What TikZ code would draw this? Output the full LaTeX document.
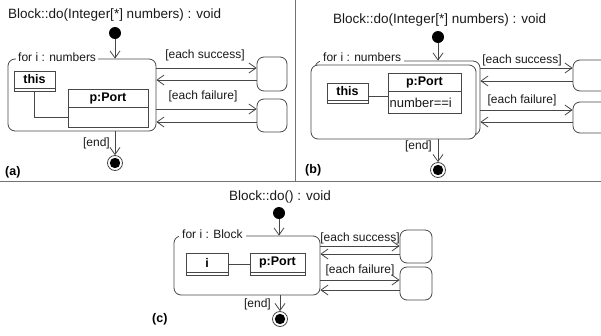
\documentclass[tikz,border=0pt]{standalone}
\usepackage{fontspec}
\setmainfont{Liberation Sans}
\usetikzlibrary{arrows.meta,calc}
\begin{document}
\begin{tikzpicture}[x=1pt,y=-1pt,
  ln/.style={draw=black!72, line width=0.8pt},
  box/.style={ln, rectangle, inner sep=0pt, fill=white},
  region/.style={ln, rectangle, rounded corners=7pt, inner sep=0pt, fill=white},
  statebox/.style={ln, rectangle, rounded corners=7pt, inner sep=0pt, fill=white},
  arr/.style={ln, -{Straight Barb[length=7pt,width=10pt]}},
  lbl/.style={font=\fontsize{12}{14}\selectfont, inner sep=1pt, text=black!90},
  ttl/.style={font=\fontsize{13.5}{16}\selectfont, inner sep=0pt, anchor=west, text=black!90},
  bld/.style={font=\fontsize{12.5}{15}\selectfont\bfseries, inner sep=0pt},
  ini/.style={circle, fill=black, minimum size=12pt, inner sep=0pt},
  fin/.style={circle, draw=black!72, fill=white, line width=0.8pt, minimum size=15pt, inner sep=0pt,
    path picture={\fill[black] (path picture bounding box.center) circle (5.2pt);}},
  sep/.style={draw=black!55, line width=1pt},
  panel/.style={font=\fontsize{12.5}{15}\selectfont\bfseries, inner sep=0pt, anchor=west}
]
\useasboundingbox (0,0) rectangle (601,335);
\clip (0,0) rectangle (601,335);

% separators
\coordinate (sepL) at (0,181);
\coordinate (sepR) at (601,181);
\coordinate (sepT) at (295,0);
\coordinate (sepM) at (295,181);
\draw[sep] (sepL) -- (sepR);
\draw[sep] (sepT) -- (sepM);

%%%%%%%%%%%%%%%% Panel (a)
\node[ttl] (tA) at (8,15) {Block::do(Integer[*] numbers) : void};
\node[ini] (iniA) at (115,33) {};
\node[region, minimum width=148pt, minimum height=72pt] (regA) at (82,95) {};
\node[lbl, fill=white, anchor=west, inner xsep=2pt] (frA) at (16,57) {for i : numbers};
\draw[arr] (iniA) -- (iniA |- regA.north);
% this box
\node[box, minimum width=41pt, minimum height=20pt] (thisA) at (34.5,81) {};
\draw[ln] ($(thisA.south west)+(0,-3)$) -- ($(thisA.south east)+(0,-3)$);
\node[bld] (thisAt) at (34.5,79.5) {this};
% port box
\node[box, minimum width=80pt, minimum height=38pt] (portA) at (108,108) {};
\draw[ln] (portA.west |- 0,107) -- (portA.east |- 0,107);
\node[bld] (portAt) at (108,98) {p:Port};
\draw[ln] (thisA.south) |- (portA.west |- 0,117);
% states
\node[statebox, minimum width=30pt, minimum height=34pt] (sA1) at (272,74) {};
\node[statebox, minimum width=30pt, minimum height=33pt] (sA2) at (272,115.5) {};
\draw[arr] (regA.east |- 0,68) -- (sA1.west |- 0,68);
\draw[arr] (sA1.west |- 0,80) -- (regA.east |- 0,80);
\draw[arr] (regA.east |- 0,109) -- (sA2.west |- 0,109);
\draw[arr] (sA2.west |- 0,122) -- (regA.east |- 0,122);
\node[lbl] (lsA) at (205,55) {[each success]};
\node[lbl] (lfA) at (203,96) {[each failure]};
% end
\node[fin] (finA) at (115,163) {};
\draw[arr] (finA |- regA.south) -- (finA.north);
\node[lbl, anchor=east] (eA) at (111,143) {[end]};
\node[panel] (pA) at (5,172) {(a)};

%%%%%%%%%%%%%%%% Panel (b)
\node[ttl] (tB) at (333,20) {Block::do(Integer[*] numbers) : void};
\node[ini] (iniB) at (438,37) {};
\node[region, minimum width=165pt, minimum height=74pt] (regBb) at (397.5,98) {};
\node[lbl, fill=white, anchor=west, inner xsep=3pt] (frB) at (320,57) {for i : numbers};
\node[region, minimum width=165pt, minimum height=74pt] (regBf) at (393.5,102) {};
\draw[arr] (iniB) -- (iniB |- regBb.north);
% this box
\node[box, minimum width=41pt, minimum height=20pt] (thisB) at (347.5,93) {};
\draw[ln] ($(thisB.south west)+(0,-3)$) -- ($(thisB.south east)+(0,-3)$);
\node[bld] (thisBt) at (347.5,91.5) {this};
% port box
\node[box, minimum width=73pt, minimum height=40pt] (portB) at (424.5,93) {};
\draw[ln] (portB.west |- 0,91) -- (portB.east |- 0,91);
\node[bld] (portBt) at (424.5,82) {p:Port};
\node[lbl, anchor=west, font=\fontsize{13}{15}\selectfont] (numB) at (388.5,102.5) {number==i};
\draw[ln] (thisB.east |- 0,96) -- (portB.west |- 0,96);
% states
\node[statebox, minimum width=42pt, minimum height=31pt] (sB1) at (594,75.5) {};
\node[statebox, minimum width=42pt, minimum height=31pt] (sB2) at (594,117.5) {};
\draw[arr] (regBb.east |- 0,68) -- (sB1.west |- 0,68);
\draw[arr] (sB1.west |- 0,81) -- (regBb.east |- 0,81);
\draw[arr] (regBb.east |- 0,110) -- (sB2.west |- 0,110);
\draw[arr] (sB2.west |- 0,122) -- (regBb.east |- 0,122);
\node[lbl] (lsB) at (522,60) {[each success]};
\node[lbl] (lfB) at (522,100) {[each failure]};
% end
\node[fin] (finB) at (438,170) {};
\draw[arr] (finB |- regBf.south) -- (finB.north);
\node[lbl, anchor=east] (eB) at (433,146) {[end]};
\node[panel] (pB) at (305,170) {(b)};

%%%%%%%%%%%%%%%% Panel (c)
\node[ttl] (tC) at (229,197) {Block::do() : void};
\node[ini] (iniC) at (279,213) {};
\node[region, minimum width=146pt, minimum height=59pt] (regC) at (247,265.5) {};
\node[lbl, fill=white, anchor=west, inner xsep=3pt] (frC) at (179,234) {for i : Block};
\draw[arr] (iniC) -- (iniC |- regC.north);
% i box
\node[box, minimum width=42pt, minimum height=22pt] (iC) at (207,264) {};
\draw[ln] ($(iC.south west)+(0,-3)$) -- ($(iC.south east)+(0,-3)$);
\node[bld] (iCt) at (207,262.5) {i};
% port box
\node[box, minimum width=55pt, minimum height=22pt] (portC) at (277.5,264) {};
\draw[ln] ($(portC.south west)+(0,-3)$) -- ($(portC.south east)+(0,-3)$);
\node[bld] (portCt) at (277.5,262.5) {p:Port};
\draw[ln] (iC.east) -- (portC.west);
% states
\node[statebox, minimum width=32pt, minimum height=33pt] (sC1) at (416,246.5) {};
\node[statebox, minimum width=32pt, minimum height=33pt] (sC2) at (416,283.5) {};
\draw[arr] (regC.east |- 0,246) -- (sC1.west |- 0,246);
\draw[arr] (sC1.west |- 0,254) -- (regC.east |- 0,254);
\draw[arr] (regC.east |- 0,280) -- (sC2.west |- 0,280);
\draw[arr] (sC2.west |- 0,290) -- (regC.east |- 0,290);
\node[lbl] (lsC) at (360,238) {[each success]};
\node[lbl] (lfC) at (360,270) {[each failure]};
% end
\node[fin] (finC) at (280,319) {};
\draw[arr] (finC |- regC.south) -- (finC.north);
\node[lbl, anchor=east] (eC) at (272,304) {[end]};
\node[panel] (pC) at (152,319) {(c)};
\end{tikzpicture}
\end{document}
